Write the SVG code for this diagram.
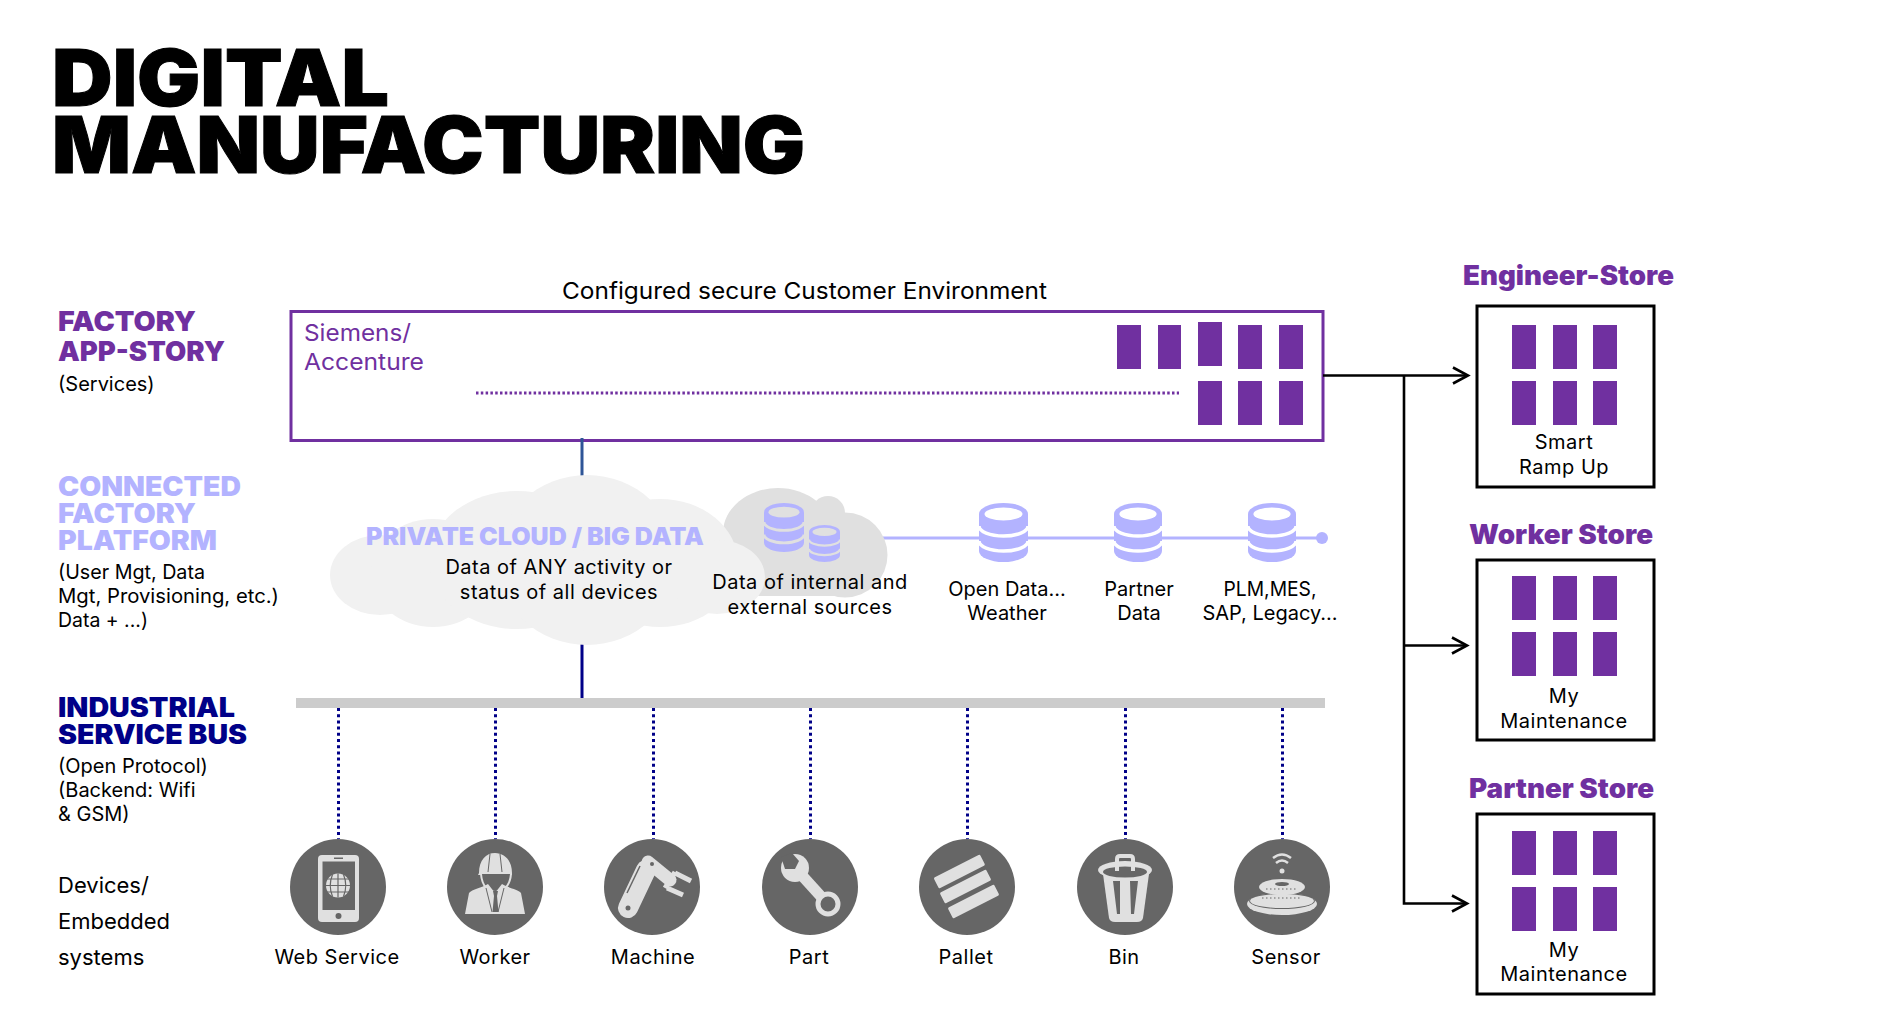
<svg xmlns="http://www.w3.org/2000/svg" width="1890" height="1009" viewBox="0 0 1890 1009">
<style>
text{font-family:Inter,"Noto Sans","Liberation Sans",sans-serif;fill:#000;font-size:20px}
.t{font-weight:900;font-size:78px;stroke:#000;stroke-width:1}
.h{font-weight:900;font-size:27px}
.p{fill:#7030a0}.l{fill:#b3b3ff}.n{fill:#000088}
.c{text-anchor:middle}
.w{letter-spacing:.5px}
.d{font-size:22px}
.s{font-weight:900;font-size:27px;fill:#7030a0}
.tile{fill:#7030a0}
.box{fill:#fff;stroke:#000;stroke-width:3}
.disc{fill:#666}
.ic{fill:#e0e0e0}
.conn{fill:none;stroke:#000;stroke-width:2.6}
.dot{fill:none;stroke:#000088;stroke-width:3;stroke-dasharray:3 3.2}
.arm{fill:none;stroke:#e0e0e0}
</style>
<defs>
<marker id="arr" markerUnits="userSpaceOnUse" markerWidth="20" markerHeight="20" refX="17" refY="10" orient="auto"><path d="M2 2 L17 10 L2 18" fill="none" stroke="#000" stroke-width="2.6"/></marker>
<symbol id="db" viewBox="0 0 49 59" preserveAspectRatio="none">
<path d="M0 11A24.5 11 0 0 1 49 11V48A24.5 11 0 0 1 0 48Z" fill="#b3b3ff"/>
<ellipse cx="24.5" cy="11" rx="19" ry="6.5" fill="currentColor"/>
<path d="M0 23A24.5 10 0 0 0 49 23M0 38A24.5 10 0 0 0 49 38" fill="none" stroke="currentColor" stroke-width="3.5"/>
</symbol>
<g id="grid"><rect x="0" y="0" width="24" height="44" class="tile"/><rect x="41" y="0" width="24" height="44" class="tile"/><rect x="81" y="0" width="24" height="44" class="tile"/><rect x="0" y="56" width="24" height="44" class="tile"/><rect x="41" y="56" width="24" height="44" class="tile"/><rect x="81" y="56" width="24" height="44" class="tile"/></g>
</defs>
<rect width="1890" height="1009" fill="#fff"/>
<g id="title"><text class="t" x="52" y="106" textLength="337" lengthAdjust="spacingAndGlyphs">DIGITAL</text><text class="t" x="52" y="173" textLength="753" lengthAdjust="spacingAndGlyphs">MANUFACTURING</text></g>

<g id="app-story-label"><text class="h p" x="58" y="331" textLength="138" lengthAdjust="spacingAndGlyphs">FACTORY</text><text class="h p" x="58" y="361" textLength="167" lengthAdjust="spacingAndGlyphs">APP-STORY</text><text x="58" y="391">(Services)</text></g>
<g id="platform-label"><text class="h l" x="58" y="496" textLength="183" lengthAdjust="spacingAndGlyphs">CONNECTED</text><text class="h l" x="58" y="523" textLength="138" lengthAdjust="spacingAndGlyphs">FACTORY</text><text class="h l" x="58" y="550" textLength="159" lengthAdjust="spacingAndGlyphs">PLATFORM</text><text x="58" y="579" textLength="147" lengthAdjust="spacingAndGlyphs">(User Mgt, Data</text><text x="58" y="603" textLength="221" lengthAdjust="spacingAndGlyphs">Mgt, Provisioning, etc.)</text><text x="58" y="627" textLength="90" lengthAdjust="spacingAndGlyphs">Data + ...)</text></g>
<g id="bus-label"><text class="h n" x="58" y="717" textLength="177" lengthAdjust="spacingAndGlyphs">INDUSTRIAL</text><text class="h n" x="58" y="744" textLength="189" lengthAdjust="spacingAndGlyphs">SERVICE BUS</text><text x="58" y="773">(Open Protocol)</text><text x="58" y="797">(Backend: Wifi</text><text x="58" y="821">&amp; GSM)</text></g>
<g id="devices-label"><text class="d" x="58" y="893">Devices/</text><text class="d" x="58" y="929">Embedded</text><text class="d" x="58" y="965">systems</text></g>

<text x="562" y="299" style="font-size:23px" textLength="485" lengthAdjust="spacingAndGlyphs">Configured secure Customer Environment</text>
<g id="app-story">
<rect x="291" y="311.500" width="1032" height="129" fill="#fff" stroke="#7030a0" stroke-width="3"/>
<text class="p" style="font-size:23px" x="304" y="341" textLength="107" lengthAdjust="spacingAndGlyphs">Siemens/</text><text class="p" style="font-size:23px" x="304" y="370" textLength="120" lengthAdjust="spacingAndGlyphs">Accenture</text>
<path d="M476 393H1179" fill="none" stroke="#7030a0" stroke-width="3" stroke-dasharray="2.500 2.300"/>
<rect x="1117" y="325" width="24" height="44" class="tile"/><rect x="1158" y="325" width="23" height="44" class="tile"/><rect x="1198" y="322" width="24" height="44" class="tile"/><rect x="1238" y="325" width="24" height="44" class="tile"/><rect x="1279" y="325" width="24" height="44" class="tile"/>
<rect x="1198" y="381" width="24" height="44" class="tile"/><rect x="1238" y="381" width="24" height="44" class="tile"/><rect x="1279" y="381" width="24" height="44" class="tile"/>
</g>

<g id="connectors">
<path d="M582 438V476" fill="none" stroke="#2f5597" stroke-width="3"/>
<path d="M582 644V698" fill="none" stroke="#000088" stroke-width="3"/>
<path class="dot" d="M338.500 708V839M495.500 708V839M653.500 708V839M810.500 708V839M967.500 708V839M1125.500 708V839M1282.500 708V839"/>
<path d="M883 538H1322" fill="none" stroke="#b3b3ff" stroke-width="3"/>
<path class="conn" d="M1323 375.500H1468" marker-end="url(#arr)"/>
<path class="conn" d="M1404 375.500V903.500H1467" marker-end="url(#arr)"/>
<path class="conn" d="M1404 645.500H1467" marker-end="url(#arr)"/>
</g>

<g id="external-sources">
<g fill="#e0e0e0"><ellipse cx="778" cy="533" rx="55" ry="45"/><circle cx="828" cy="513" r="17"/><circle cx="845" cy="555" r="42.500"/><rect x="740" y="540" width="105" height="56"/></g>
<use href="#db" x="764" y="503" width="40" height="49" color="#e0e0e0"/>
<use href="#db" x="809" y="525" width="31" height="37" color="#e0e0e0"/>
</g>
<g id="private-cloud">
<g fill="#f1f1f1"><ellipse cx="380" cy="575" rx="50" ry="40"/><ellipse cx="433" cy="573" rx="62" ry="54"/><ellipse cx="517" cy="560" rx="88" ry="69"/><ellipse cx="587" cy="560" rx="90" ry="85"/><ellipse cx="660" cy="563" rx="78" ry="64"/><ellipse cx="717" cy="577" rx="48" ry="37"/></g>
<text class="l" style="font-weight:900;font-size:24px" x="366" y="545" textLength="338" lengthAdjust="spacingAndGlyphs">PRIVATE CLOUD / BIG DATA</text>
<text class="c w" x="559" y="574">Data of ANY activity or</text><text class="c w" x="559" y="599">status of all devices</text>
</g>
<g id="external-text"><text class="c w" x="810" y="589">Data of internal and</text><text class="c w" x="810" y="614">external sources</text></g>
<circle cx="1322" cy="538" r="6" fill="#b3b3ff"/>
<g id="open-data"><use href="#db" x="979" y="503" width="49" height="59" color="#fff"/><text class="c" x="1007" y="596">Open Data...</text><text class="c" x="1007" y="620">Weather</text></g>
<g id="partner-data"><use href="#db" x="1114" y="503" width="48" height="59" color="#fff"/><text class="c" x="1139" y="596">Partner</text><text class="c" x="1139" y="620">Data</text></g>
<g id="plm-data"><use href="#db" x="1248" y="503" width="48" height="59" color="#fff"/><text class="c" x="1270" y="596" textLength="93" lengthAdjust="spacingAndGlyphs">PLM,MES,</text><text class="c" x="1270" y="620">SAP, Legacy...</text></g>
<rect id="bus" x="296" y="698" width="1029" height="10" fill="#cccccc"/>

<g id="web-service"><circle class="disc" cx="338" cy="887" r="48"/>
<rect class="ic" x="318" y="855" width="41" height="67" rx="4"/><rect class="disc" x="322.500" y="861.500" width="32.500" height="48.500"/><rect x="334" y="857.500" width="9" height="1.500" fill="#666"/><circle class="disc" cx="338.500" cy="916" r="3"/>
<circle class="ic" cx="338" cy="885.500" r="12"/><path d="M326 885.500H350M327 879H349M327 892H349M338 873.500V897.500M332.500 874.500Q328 885.500 332.500 896.500M343.500 874.500Q348 885.500 343.500 896.500" fill="none" stroke="#666" stroke-width="1.200"/>
<text class="c w" x="337" y="964">Web Service</text></g>
<g id="worker"><circle class="disc" cx="495" cy="887" r="48"/>
<path class="ic" d="M479 873C479 860 486 853 495 853S512 860 512 873L512 875H478Z"/>
<path d="M490 854L488 872M500 854L502 872" stroke="#666" stroke-width="1" fill="none"/>
<path d="M481 874C482 887 489 892 495.500 892S510 887 511 874" fill="#666" stroke="#e0e0e0" stroke-width="2"/>
<path class="ic" d="M465 914L469 893C472 889 482 888 488 884L495 893L502 884C508 888 518 889 521 893L525 914Z"/>
<path d="M486 888L492 912M504 888L498 912" stroke="#666" stroke-width="1" fill="none"/>
<path d="M493 891H498L497 896L498.500 912H492.500L494 896Z" fill="#666"/>
<text class="c w" x="495" y="964">Worker</text></g>
<g id="machine"><circle class="disc" cx="652" cy="887" r="48"/>
<path class="arm" d="M628 908L646 870" stroke-width="20" stroke-linecap="round"/>
<path class="arm" d="M648 862L670 880" stroke-width="13" stroke-linecap="round"/>
<path class="arm" d="M675 872L665 888M675 873L691 881M667 888L683 895" stroke-width="5"/>
<path d="M640 866L627 893" stroke="#666" stroke-width="1.500" fill="none"/>
<circle class="disc" cx="628" cy="908" r="2.500"/><circle class="disc" cx="652" cy="864" r="2"/>
<text class="c w" x="653" y="964">Machine</text></g>
<g id="part"><circle class="disc" cx="810" cy="887" r="48"/>
<circle class="ic" cx="795" cy="868" r="14"/><path d="M797 870L826 902" class="arm" stroke-width="11"/>
<path d="M781 857L792 853L799 861L795 869L785 869Z" fill="#666"/>
<circle cx="828" cy="904" r="10" fill="#666" stroke="#e0e0e0" stroke-width="5"/>
<text class="c w" x="809" y="964">Part</text></g>
<g id="pallet"><circle class="disc" cx="967" cy="887" r="48"/>
<rect class="ic" x="933.400" y="865.500" width="52" height="12" rx="1.500" transform="rotate(-27 959.400 871.500)"/>
<rect class="ic" x="939.500" y="880.500" width="52" height="12" rx="1.500" transform="rotate(-27 965.500 886.500)"/>
<rect class="ic" x="947.500" y="895.500" width="52" height="12" rx="1.500" transform="rotate(-27 973.500 901.500)"/>
<text class="c w" x="966" y="964">Pallet</text></g>
<g id="bin"><circle class="disc" cx="1125" cy="887" r="48"/>
<path class="ic" d="M1103 874L1149 874L1143 918Q1142 922 1137 922H1115Q1110 922 1109 918Z"/>
<ellipse cx="1125" cy="870" rx="27" ry="9" fill="#e0e0e0"/><ellipse cx="1125" cy="872" rx="22" ry="5.500" fill="#666"/>
<path d="M1117 871V859Q1117 856 1120 856H1130Q1133 856 1133 859V871" fill="none" stroke="#e0e0e0" stroke-width="4"/>
<path d="M1113 881H1120V914H1117Z M1130 881H1138L1134 914H1131Z" fill="#666"/>
<text class="c w" x="1124" y="964">Bin</text></g>
<g id="sensor"><circle class="disc" cx="1282" cy="887" r="48"/>
<ellipse class="ic" cx="1282" cy="904" rx="35" ry="11"/><ellipse cx="1282" cy="901" rx="33" ry="8" fill="#666"/><ellipse class="ic" cx="1282" cy="901" rx="32" ry="7"/>
<ellipse class="ic" cx="1282" cy="887" rx="23" ry="8"/><ellipse class="disc" cx="1282" cy="884" rx="7" ry="2"/>
<path d="M1266 889H1298M1262 898H1302" stroke="#666" stroke-width="1.200" stroke-dasharray="1.500 2.500" fill="none"/>
<path d="M1273 858Q1282 851 1291 858M1276 863Q1282 858 1288 863" fill="none" stroke="#e0e0e0" stroke-width="2.500"/><circle class="ic" cx="1282" cy="871" r="2.500"/>
<text class="c w" x="1286" y="964">Sensor</text></g>

<g id="engineer-store"><text class="s" x="1463" y="285" textLength="211" lengthAdjust="spacingAndGlyphs">Engineer-Store</text>
<rect class="box" x="1477" y="306" width="177" height="181"/><use href="#grid" x="1512" y="325"/>
<text class="c w" x="1564" y="449">Smart</text><text class="c w" x="1564" y="474">Ramp Up</text></g>
<g id="worker-store"><text class="s" x="1469" y="544" textLength="184" lengthAdjust="spacingAndGlyphs">Worker Store</text>
<rect class="box" x="1477" y="560" width="177" height="180"/><use href="#grid" x="1512" y="576"/>
<text class="c w" x="1564" y="703">My</text><text class="c w" x="1564" y="728">Maintenance</text></g>
<g id="partner-store"><text class="s" x="1469" y="798" textLength="185" lengthAdjust="spacingAndGlyphs">Partner Store</text>
<rect class="box" x="1477" y="814" width="177" height="180"/><use href="#grid" x="1512" y="831"/>
<text class="c w" x="1564" y="957">My</text><text class="c w" x="1564" y="981">Maintenance</text></g>
</svg>
